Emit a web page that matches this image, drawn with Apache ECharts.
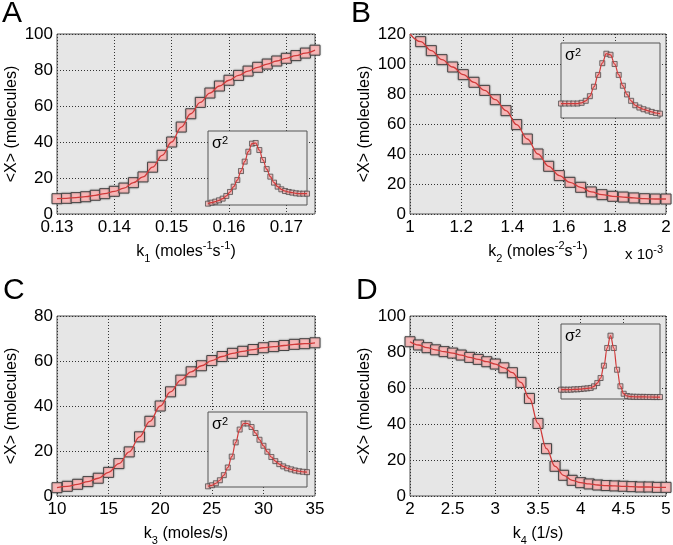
<!DOCTYPE html>
<html><head><meta charset="utf-8">
<script src="https://cdn.jsdelivr.net/npm/echarts@6/dist/echarts.min.js"></script>
<style>html,body{margin:0;padding:0;background:#fff}#c{width:673px;height:545px}</style>
</head><body><div id="c"></div>
<script>
// ---------- DATA ----------
// Panel A: k1
const aX = [0.13, 0.13167, 0.13333, 0.135, 0.13667, 0.13833, 0.14, 0.14167, 0.14333, 0.145, 0.14667, 0.14833, 0.15, 0.15167, 0.15333, 0.155, 0.15667, 0.15833, 0.16, 0.16167, 0.16333, 0.165, 0.16667, 0.16833, 0.17, 0.17167, 0.17333, 0.175];
const aMean = [8.5, 8.7, 9.1, 9.6, 10.4, 11.3, 12.6, 14.4, 17.4, 20.6, 26, 32.6, 40, 48.3, 55.7, 62, 67.2, 71.1, 74.3, 77, 79.4, 81.5, 83.3, 85, 86.5, 88, 89.4, 91];
const aVar = [1.8, 3.2, 4.5, 6.3, 8.6, 12.2, 17.6, 24.8, 33.8, 45.9, 58.6, 72, 82.9, 83.8, 74.3, 60.8, 48.6, 38.3, 30.2, 24.8, 21.2, 18.9, 17.6, 16.7, 15.8, 15.3, 15.3, 15.3];
const aXRange = [0.13, 0.175, 0.01];
const aYRange = [0, 100, 20];

// Panel B: k2 (x 10^-3)
const bX = [1.0417, 1.0833, 1.125, 1.1667, 1.2083, 1.25, 1.2917, 1.3333, 1.375, 1.4167, 1.4583, 1.5, 1.5417, 1.5833, 1.625, 1.6667, 1.7083, 1.75, 1.7917, 1.8333, 1.875, 1.9167, 1.9583, 2.0];
const bMean = [114.9, 108.9, 102.9, 98, 92.9, 87.8, 82.4, 76.2, 68.9, 59.6, 50, 40, 31.8, 25.6, 21.1, 17.8, 14.7, 12.9, 11.8, 11.3, 10.7, 10.2, 10, 10];
const bLineStart = [1.0, 120];
const bVarX = [1.0, 1.0417, 1.0833, 1.125, 1.1667, 1.2083, 1.25, 1.2917, 1.3333, 1.375, 1.4167, 1.4583, 1.5, 1.5417, 1.5833, 1.625, 1.6667, 1.7083, 1.75, 1.7917, 1.8333, 1.875, 1.9167, 1.9583, 2.0];
const bVar = [19.3, 19.3, 19.3, 19.3, 19.3, 20.2, 22.9, 29.1, 41.7, 57.4, 73.1, 85.7, 84.3, 72, 57.4, 43, 31.4, 22.9, 17, 13.9, 11.7, 9.9, 8.1, 6.7, 5.8];
const bXRange = [1, 2, 0.2];
const bYRange = [0, 120, 20];

// Panel C: k3
const cX = [10, 11, 12, 13, 14, 15, 16, 17, 18, 19, 20, 21, 22, 23, 24, 25, 26, 27, 28, 29, 30, 31, 32, 33, 34, 35];
const cMean = [3.7, 4.3, 5.2, 6.4, 7.9, 10.5, 14.4, 19.6, 26.3, 33.2, 40, 46.3, 51.5, 55.2, 57.9, 60.2, 62, 63.4, 64.3, 65.1, 65.9, 66.4, 66.9, 67.4, 67.7, 68.1];
const cVar = [0.9, 2.3, 5, 9, 15.8, 26, 40.5, 59.5, 76.6, 84.7, 84.7, 80, 72, 63, 55, 47, 40, 34.5, 30.5, 27.5, 25, 23.5, 22, 21, 20.3, 19.8];
const cXRange = [10, 35, 5];
const cYRange = [0, 80, 20];

// Panel D: k4
const dX = [2.0, 2.1, 2.2, 2.3, 2.4, 2.5, 2.6, 2.7, 2.8, 2.9, 3.0, 3.1, 3.2, 3.3, 3.4, 3.5, 3.6, 3.7, 3.8, 3.9, 4.0, 4.1, 4.2, 4.3, 4.4, 4.5, 4.6, 4.7, 4.8, 4.9, 5.0];
const dMean = [85.7, 83.9, 82.4, 81.2, 80.2, 79.4, 78.3, 77, 75.9, 74.6, 73.3, 71.2, 68.5, 63.1, 54.2, 40.3, 26.3, 16.5, 11.5, 8.7, 7.4, 6.7, 6.1, 5.8, 5.6, 5.4, 5.2, 5, 5, 4.8, 4.8];
const dVar = [12.4, 12.4, 12.4, 12.4, 12.9, 12.9, 13.3, 13.8, 14.2, 14.7, 16.9, 21.3, 28, 44.4, 68, 84.4, 68, 39, 17, 7, 4, 3.2, 3, 2.9, 2.8, 2.8, 2.7, 2.7, 2.6, 2.6, 2.6];
const dXRange = [2, 5, 0.5];
const dYRange = [0, 100, 20];

const insetYRange = [0, 100];

// ---------- STYLE / LAYOUT ----------
const FONT = "'Liberation Sans', Arial, Helvetica, sans-serif";
const BG = '#e6e6e6';
const BORDER = '#555';
const LINE = '#d03a3a';
const FILL = '#f7b8b8';
const richSS = {
  sub: { fontSize: 11, lineHeight: 11, verticalAlign: 'bottom', fontFamily: FONT, color: '#000' },
  sup: { fontSize: 11, lineHeight: 11, verticalAlign: 'top', fontFamily: FONT, color: '#000' }
};

const panels = [
  { g: [57, 34, 258, 180], ins: [208, 131, 99, 74], x: aX, y: aMean, vx: aX, v: aVar, xr: aXRange, yr: aYRange,
    name: 'k{sub|1} (moles{sup|-1}s{sup|-1})', hideMax: true },
  { g: [410, 34, 256, 180], ins: [561, 43, 99, 75], x: bX, y: bMean, vx: bVarX, v: bVar, xr: bXRange, yr: bYRange,
    name: 'k{sub|2} (moles{sup|-2}s{sup|-1})', hideMax: false, lineStart: bLineStart },
  { g: [57, 316, 258, 180], ins: [208, 412, 99, 75], x: cX, y: cMean, vx: cX, v: cVar, xr: cXRange, yr: cYRange,
    name: 'k{sub|3} (moles/s)', hideMax: false },
  { g: [410, 316, 256, 180], ins: [561, 324, 99, 75], x: dX, y: dMean, vx: dX, v: dVar, xr: dXRange, yr: dYRange,
    name: 'k{sub|4} (1/s)', hideMax: false }
];

const zip = (xs, ys) => xs.map((x, i) => [x, ys[i]]);

const grid = [], xAxis = [], yAxis = [], series = [], graphic = [];

panels.forEach((p, i) => {
  const mi = grid.length;
  grid.push({ left: p.g[0], top: p.g[1], width: p.g[2], height: p.g[3], show: true,
    backgroundColor: BG, borderColor: BORDER, borderWidth: 1, z: 0, outerBoundsMode: 'none' });
  xAxis.push({ type: 'value', gridIndex: mi, min: p.xr[0], max: p.xr[1], interval: p.xr[2], z: 1,
    axisLine: { show: false }, axisTick: { show: false },
    splitLine: { show: true, lineStyle: { color: '#333', width: 1, type: [1, 2] } },
    axisLabel: { color: '#000', fontSize: 17, fontFamily: FONT, margin: 5, showMaxLabel: !p.hideMax },
    name: p.name, nameLocation: 'middle', nameGap: 26,
    nameTextStyle: { color: '#000', fontSize: 16, fontFamily: FONT, lineHeight: 24, rich: richSS } });
  yAxis.push({ type: 'value', gridIndex: mi, min: p.yr[0], max: p.yr[1], interval: p.yr[2], z: 1,
    axisLine: { show: false }, axisTick: { show: false },
    splitLine: { show: true, lineStyle: { color: '#333', width: 1, type: [1, 2] } },
    axisLabel: { color: '#000', fontSize: 17, fontFamily: FONT, margin: 4 },
    name: '<X> (molecules)', nameLocation: 'middle', nameGap: 37,
    nameTextStyle: { color: '#000', fontSize: 16, fontFamily: FONT } });
  const lineData = p.lineStart ? [p.lineStart].concat(zip(p.x, p.y)) : zip(p.x, p.y);
  series.push({ type: 'scatter', xAxisIndex: mi, yAxisIndex: mi, data: zip(p.x, p.y), symbol: 'rect', symbolSize: 10, z: 2,
    itemStyle: { color: FILL, borderColor: '#444', borderWidth: 1, shadowBlur: 2, shadowColor: 'rgba(0,0,0,0.25)', opacity: 1 },
    silent: true });
  series.push({ type: 'line', xAxisIndex: mi, yAxisIndex: mi, data: lineData, showSymbol: false, smooth: 0.4, smoothMonotone: 'x', z: 3,
    lineStyle: { color: LINE, width: 1.3 }, silent: true });

  // inset
  const ii = grid.length;
  grid.push({ left: p.ins[0], top: p.ins[1], width: p.ins[2], height: p.ins[3], show: true,
    backgroundColor: BG, borderColor: BORDER, borderWidth: 1, z: 4, outerBoundsMode: 'none' });
  xAxis.push({ type: 'value', gridIndex: ii, min: p.xr[0], max: p.xr[1], show: false, z: 4 });
  yAxis.push({ type: 'value', gridIndex: ii, min: insetYRange[0], max: insetYRange[1], show: false, z: 4 });
  series.push({ type: 'scatter', xAxisIndex: ii, yAxisIndex: ii, data: zip(p.vx, p.v), symbol: 'rect', symbolSize: 5, z: 5,
    itemStyle: { color: FILL, borderColor: '#444', borderWidth: 0.8, shadowBlur: 1, shadowColor: 'rgba(0,0,0,0.25)' }, silent: true });
  series.push({ type: 'line', xAxisIndex: ii, yAxisIndex: ii, data: zip(p.vx, p.v), showSymbol: false, smooth: 0.4, smoothMonotone: 'x', z: 6,
    lineStyle: { color: LINE, width: 1.2 }, silent: true });

  graphic.push({ type: 'text', x: p.ins[0] + 4, y: p.ins[1] + 13, z: 100,
    style: { text: '{s|σ}{p|2}', verticalAlign: 'middle', align: 'left',
      rich: { s: { fontSize: 16, lineHeight: 18, fontFamily: FONT, fill: '#000' },
              p: { fontSize: 11, lineHeight: 11, verticalAlign: 'top', fontFamily: FONT, fill: '#000' } } } });
});

const letters = [['A', 2, 14], ['B', 351, 14], ['C', 3, 291], ['D', 356, 291]];
letters.forEach(l => graphic.push({ type: 'text', x: l[1], y: l[2], z: 100,
  style: { text: l[0], font: '30px ' + FONT, fill: '#000', align: 'left', verticalAlign: 'middle' } }));
graphic.push({ type: 'text', x: 625, y: 255, z: 100,
  style: { text: 'x 10{p|-3}', font: '15px ' + FONT, fill: '#000', align: 'left', verticalAlign: 'middle',
    rich: { p: { fontSize: 11, lineHeight: 11, verticalAlign: 'top', fontFamily: FONT, fill: '#000' } }, lineHeight: 22 } });

const chart = echarts.init(document.getElementById('c'), null, { renderer: 'canvas' });
chart.setOption({ animation: false, backgroundColor: '#fff', grid, xAxis, yAxis, series, graphic });
</script></body></html>
